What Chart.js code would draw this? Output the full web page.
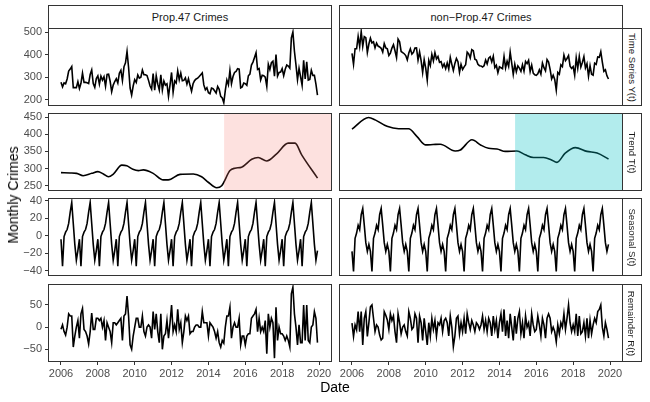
<!DOCTYPE html>
<html>
<head>
<meta charset="utf-8">
<script src="https://cdn.jsdelivr.net/npm/chart.js@4.4.1/dist/chart.umd.min.js"></script>
<style>
  body { margin: 0; background: #fff; font-family: "Liberation Sans", Arial, sans-serif; }
  #wrap { position: relative; width: 650px; height: 402px; overflow: hidden; }
  canvas { position: absolute; }
  .strip { position: absolute; box-sizing: border-box; border: 1px solid #333; background: #fff;
           color: #1a1a1a; display: flex; align-items: center; justify-content: center; white-space: nowrap; }
  .strip.top { font-size: 11px; }
  .strip.side { font-size: 9.6px; }
  .strip.side span { transform: rotate(90deg); }
  .title { position: absolute; font-size: 14px; color: #000; white-space: nowrap; }
</style>
</head>
<body>
<div id="wrap"></div>
<script>
// ---- data ----
const years = [2006, 2007, 2008, 2009, 2010, 2011, 2012, 2013, 2014, 2015, 2016, 2017, 2018, 2019];

// Prop.47 crimes, one row of 12 months per year
const prop47Observed = [
  [279, 258, 276, 272, 293, 328, 337, 348, 255, 255, 255, 281],
  [251, 274, 319, 278, 278, 276, 273, 313, 333, 273, 256, 295],
  [307, 270, 306, 288, 303, 261, 313, 314, 283, 237, 266, 282],
  [294, 275, 319, 332, 286, 347, 365, 415, 345, 253, 222, 262],
  [290, 278, 311, 297, 301, 333, 312, 312, 308, 287, 262, 248],
  [317, 243, 308, 270, 244, 312, 244, 284, 266, 272, 216, 267],
  [322, 234, 284, 275, 329, 290, 319, 285, 287, 298, 270, 294],
  [265, 239, 272, 286, 293, 297, 304, 312, 320, 267, 245, 254],
  [232, 228, 253, 250, 241, 231, 260, 247, 216, 209, 188, 243],
  [289, 268, 331, 272, 304, 322, 327, 339, 337, 254, 258, 275],
  [272, 265, 307, 315, 355, 368, 388, 409, 335, 339, 289, 310],
  [308, 301, 260, 358, 335, 365, 372, 306, 401, 306, 322, 324],
  [339, 308, 336, 355, 350, 341, 475, 501, 416, 356, 290, 340],
  [303, 265, 376, 293, 369, 288, 291, 332, 309, 309, 270, 222]
];
const prop47TrendDates = [2006.0, 2006.5, 2006.85, 2007.2, 2007.67, 2008.0, 2008.3, 2008.57, 2008.84,
  2009.3, 2009.57, 2009.9, 2010.2, 2010.47, 2011.0, 2011.55, 2011.82, 2012.46, 2013.18, 2013.63,
  2013.99, 2014.45, 2014.72, 2015.17, 2015.44, 2015.8, 2016.35, 2016.7, 2017.16, 2017.7, 2018.33,
  2018.7, 2019.06, 2019.92];
const prop47TrendValues = [288, 287, 286, 279, 286, 291, 284, 276, 284,
  310, 308, 298, 294, 296, 286, 267, 267, 283, 284, 276,
  260, 244, 250, 294, 301, 304, 327, 332, 322, 343, 374,
  374, 340, 272];
const prop47Seasonal = [
  [-4, -35, -1, 4, 7, 14, 27, 38, 14, -10, -28, -17],
  [-4, -35, -1, 4, 7, 14, 27, 38, 14, -10, -28, -17],
  [-4, -35, -1, 4, 7, 14, 27, 38, 14, -10, -28, -17],
  [-4, -35, -1, 4, 7, 14, 27, 38, 14, -10, -28, -17],
  [-4, -35, -1, 4, 7, 14, 27, 38, 14, -10, -28, -17],
  [-4, -35, -1, 4, 7, 14, 27, 38, 14, -10, -28, -17],
  [-4, -35, -1, 4, 7, 14, 27, 38, 14, -10, -28, -17],
  [-4, -35, -1, 4, 7, 14, 27, 38, 14, -10, -28, -17],
  [-4, -35, -1, 4, 7, 14, 27, 38, 14, -10, -28, -17],
  [-4, -35, -1, 4, 7, 14, 27, 38, 14, -10, -28, -17],
  [-4, -35, -1, 4, 7, 14, 27, 38, 14, -10, -28, -17],
  [-4, -35, -1, 4, 7, 14, 27, 38, 14, -10, -28, -17],
  [-4, -35, -1, 4, 7, 14, 27, 38, 14, -10, -28, -17],
  [-4, -35, -1, 4, 7, 14, 27, 38, 14, -10, -28, -17]
];
const prop47Remainder = [
  [-5, 5, -10, -18, 0, 30, 25, 25, -45, -20, 0, 15],
  [-25, 30, 42, -5, -10, -20, -38, -10, 32, -5, -5, 20],
  [20, 15, 20, 0, 15, -30, 10, 0, -10, -35, 10, 10],
  [5, 10, 15, 20, -30, 25, 30, 70, 25, -40, -50, -20],
  [0, 20, 20, 0, 0, 25, -10, -20, 0, 5, 0, -25],
  [35, -5, 30, -10, -35, 30, -50, -20, -15, 15, -25, 10],
  [50, -10, 5, -10, 40, -5, 10, -35, -10, 25, 15, 25],
  [-15, -10, -10, 0, 5, 5, 0, 0, 35, 10, 10, 10],
  [-20, 10, 5, 0, -10, -25, -10, -35, -45, -30, -36, 0],
  [25, 25, 45, -25, 0, 10, 0, 0, 20, -40, -20, -20],
  [-40, -20, -15, -15, 20, 25, 30, 40, -10, 20, -10, 0],
  [-10, 15, -60, 30, 0, 20, 10, -70, 45, -30, 0, -15],
  [-15, -20, -30, -20, -30, -45, 75, 90, 30, 0, -40, 5],
  [-35, -35, 50, -30, 50, -30, -35, 0, 5, 35, 20, -35]
];

// non-Prop.47 crimes
const otherObserved = [
  [407, 358, 427, 427, 482, 437, 503, 438, 481, 476, 410, 448],
  [474, 453, 458, 431, 452, 439, 435, 429, 412, 450, 431, 427],
  [397, 408, 430, 445, 418, 388, 470, 458, 415, 410, 405, 397],
  [378, 408, 427, 403, 411, 430, 431, 377, 413, 374, 322, 379],
  [341, 288, 376, 353, 402, 373, 410, 382, 393, 367, 370, 346],
  [360, 339, 364, 337, 389, 358, 331, 362, 384, 370, 322, 358],
  [335, 347, 356, 412, 404, 386, 423, 418, 381, 377, 358, 352],
  [351, 346, 352, 377, 360, 385, 392, 369, 394, 344, 354, 321],
  [347, 343, 339, 393, 342, 372, 349, 412, 363, 313, 358, 325],
  [351, 341, 327, 356, 328, 371, 361, 376, 326, 355, 319, 312],
  [309, 316, 334, 315, 364, 343, 329, 379, 368, 336, 294, 310],
  [291, 244, 322, 314, 356, 348, 399, 374, 384, 397, 350, 340],
  [348, 310, 387, 341, 393, 346, 366, 392, 342, 361, 305, 352],
  [314, 310, 363, 358, 391, 389, 414, 368, 327, 334, 307, 293]
];
const otherTrendDates = [2006.0, 2006.9, 2007.26, 2007.9, 2008.53, 2009.07, 2009.53, 2009.98, 2010.4,
  2010.79, 2011.6, 2011.88, 2012.51, 2013.0, 2013.41, 2013.87, 2014.32, 2014.95, 2015.4, 2015.85,
  2016.4, 2016.8, 2017.12, 2017.57, 2018.12, 2018.75, 2019.3, 2019.92];
const otherTrendValues = [415, 449, 442, 423, 416, 416, 393, 369, 370,
  371, 351, 354, 384, 368, 359, 357, 350, 351, 340, 332,
  332, 326, 318, 345, 361, 350, 345, 328];
const otherSeasonal = [
  [-18, -41, -3, 3, 12, 7, 24, 31, 12, -8, -18, -10],
  [-18, -41, -3, 3, 12, 7, 24, 31, 12, -8, -18, -10],
  [-18, -41, -3, 3, 12, 7, 24, 31, 12, -8, -18, -10],
  [-18, -41, -3, 3, 12, 7, 24, 31, 12, -8, -18, -10],
  [-18, -41, -3, 3, 12, 7, 24, 31, 12, -8, -18, -10],
  [-18, -41, -3, 3, 12, 7, 24, 31, 12, -8, -18, -10],
  [-18, -41, -3, 3, 12, 7, 24, 31, 12, -8, -18, -10],
  [-18, -41, -3, 3, 12, 7, 24, 31, 12, -8, -18, -10],
  [-18, -41, -3, 3, 12, 7, 24, 31, 12, -8, -18, -10],
  [-18, -41, -3, 3, 12, 7, 24, 31, 12, -8, -18, -10],
  [-18, -41, -3, 3, 12, 7, 24, 31, 12, -8, -18, -10],
  [-18, -41, -3, 3, 12, 7, 24, 31, 12, -8, -18, -10],
  [-18, -41, -3, 3, 12, 7, 24, 31, 12, -8, -18, -10],
  [-18, -41, -3, 3, 12, 7, 24, 31, 12, -8, -18, -10]
];
const otherRemainder = [
  [9, -21, 5, -6, 35, -10, 35, -40, 20, 35, -21, 10],
  [46, 50, 20, -10, 5, 0, -18, -29, -25, 35, 27, 16],
  [-5, 30, 15, 25, -10, -35, 30, 10, -15, 0, 5, -10],
  [-20, 35, 20, -5, 0, 30, 20, -35, 25, 10, -30, 20],
  [-10, -40, 10, -20, 20, -5, 15, -20, 10, 5, 20, -10],
  [15, 20, 10, -20, 25, 0, -44, -20, 20, 25, -15, 10],
  [-10, 20, -15, 30, 10, -5, 15, 5, -10, 10, 5, -5],
  [5, 25, -5, 15, -10, 20, 10, -20, 25, -5, 15, -25],
  [10, 30, -10, 40, -20, 15, -25, 30, 0, -30, 25, -15],
  [20, 35, -15, 10, -25, 25, 0, 10, -20, 30, 5, -10],
  [-5, 25, 5, -20, 20, 5, -25, 20, 30, 20, -10, 0],
  [-10, -33, 5, -15, 10, 0, 30, -5, 20, 50, 10, -10],
  [5, -10, 30, -20, 25, -15, -10, 10, -20, 20, -25, 15],
  [-15, 5, 20, 10, 35, 40, 50, 0, -20, 10, -5, -25]
];

const prop47Passed = 2014.85;   // shaded from Nov 2014 on
const xTicks = [2006, 2008, 2010, 2012, 2014, 2016, 2018, 2020];
const seriesTicks = [200, 300, 400, 500];
const trendTicks = [250, 300, 350, 400, 450];
const seasonalTicks = [-40, -20, 0, 20, 40];
const remainderTicks = [-50, 0, 50];
const columnTitles = ['Prop.47 Crimes', 'non\u2212Prop.47 Crimes'];
const rowTitles = ['Time Series Y(t)', 'Trend T(t)', 'Seasonal S(t)', 'Remainder R(t)'];

// ---- layout ----
const FONT = '"Liberation Sans", Arial, sans-serif';
const xMin = 2005.295, xMax = 2020.705;
const rowLimits = [[173.4, 519], [234.5, 462], [-46.1, 43.1], [-78.7, 97.4]];
const rowTicks = [seriesTicks, trendTicks, seasonalTicks, remainderTicks];
const panelLeft = [48, 339];
const panelTop = [28, 113, 198, 284];
const panelW = 284, panelH = 78;
const yAxisW = 48, xAxisH = 28, pad = 12;
const shades = ['rgba(248, 118, 109, 0.22)', 'rgba(0, 191, 196, 0.3)'];

const wrap = document.getElementById('wrap');

function monthly(rows) {
    return rows.flatMap((row, i) => row.map((v, m) => ({ x: years[i] + m / 12, y: v })));
}

function knots(dates, values) {
    return dates.map((d, i) => ({ x: d, y: values[i] }));
}

const panelPlugin = {
    id: 'panel',
    afterDatasetsDraw(chart, args, opts) {
        const { ctx, chartArea: a, scales } = chart;
        ctx.save();
        if (opts.shade) {
            const x0 = scales.x.getPixelForValue(prop47Passed);
            ctx.fillStyle = opts.shade;
            ctx.fillRect(x0, a.top, a.right - x0, a.bottom - a.top);
        }
        ctx.strokeStyle = '#333';
        ctx.lineWidth = 1;
        ctx.strokeRect(a.left + 0.5, a.top + 0.5, a.right - a.left - 1, a.bottom - a.top - 1);
        ctx.restore();
    }
};

function makePanel(col, row, points, smooth, shade) {
    const canvas = document.createElement('canvas');
    const showY = col === 0, showX = row === 3;
    const left = panelLeft[col] - (showY ? yAxisW : pad);
    const top = panelTop[row] - pad;
    const width = panelW + (showY ? yAxisW : pad) + pad;
    const height = panelH + pad + (showX ? xAxisH : pad);
    canvas.width = width;
    canvas.height = height;
    canvas.style.left = left + 'px';
    canvas.style.top = top + 'px';
    wrap.appendChild(canvas);

    const tickStyle = { color: '#4d4d4d', font: { family: FONT, size: 11 }, padding: 2, autoSkip: false, maxRotation: 0 };
    const gridStyle = { drawOnChartArea: false, tickLength: 3, tickColor: '#333', lineWidth: 1 };

    new Chart(canvas, {
        type: 'line',
        data: {
            datasets: [{
                data: points,
                borderColor: '#000',
                borderWidth: 1.6,
                pointRadius: 0,
                fill: false,
                tension: smooth ? 0.4 : 0,
                cubicInterpolationMode: smooth ? 'monotone' : 'default'
            }]
        },
        options: {
            responsive: false,
            animation: false,
            events: [],
            layout: { padding: { left: showY ? 0 : pad, right: pad, top: pad, bottom: showX ? 0 : pad } },
            plugins: { legend: { display: false }, tooltip: { enabled: false }, panel: { shade: shade } },
            scales: {
                x: {
                    type: 'linear', min: xMin, max: xMax, display: showX,
                    afterBuildTicks: s => { s.ticks = xTicks.map(v => ({ value: v })); },
                    afterFit: s => { s.height = showX ? xAxisH : 0; },
                    grid: gridStyle, border: { display: false },
                    ticks: Object.assign({}, tickStyle, { callback: v => String(v) })
                },
                y: {
                    type: 'linear', min: rowLimits[row][0], max: rowLimits[row][1], display: showY,
                    afterBuildTicks: s => { s.ticks = rowTicks[row].map(v => ({ value: v })); },
                    afterFit: s => { s.width = showY ? yAxisW : 0; },
                    grid: gridStyle, border: { display: false },
                    ticks: Object.assign({}, tickStyle, { padding: 3, callback: v => String(v).replace('-', '\u2212') })
                }
            }
        },
        plugins: [panelPlugin]
    });
}

function addDiv(cls, text, style) {
    const d = document.createElement('div');
    d.className = cls;
    const span = document.createElement('span');
    span.textContent = text;
    d.appendChild(span);
    Object.assign(d.style, style);
    wrap.appendChild(d);
    return d;
}

// panels: rows = Y, T, S, R ; columns = Prop.47, non-Prop.47
const columns = [
    { observed: prop47Observed, trend: knots(prop47TrendDates, prop47TrendValues), seasonal: prop47Seasonal, remainder: prop47Remainder },
    { observed: otherObserved, trend: knots(otherTrendDates, otherTrendValues), seasonal: otherSeasonal, remainder: otherRemainder }
];

columns.forEach((c, col) => {
    makePanel(col, 0, monthly(c.observed), false, null);
    makePanel(col, 1, c.trend, true, shades[col]);
    makePanel(col, 2, monthly(c.seasonal), false, null);
    makePanel(col, 3, monthly(c.remainder), false, null);

    addDiv('strip top', columnTitles[col], {
        left: panelLeft[col] + 'px', top: '5px', width: panelW + 'px', height: '24px'
    });
});

rowTitles.forEach((t, row) => {
    addDiv('strip side', t, {
        left: (panelLeft[1] + panelW - 1) + 'px', top: panelTop[row] + 'px', width: '20px', height: panelH + 'px'
    });
});

// axis titles
addDiv('title', 'Monthly Crimes', { left: '13px', top: '195px', transform: 'translate(-50%, -50%) rotate(-90deg)' });
addDiv('title', 'Date', { left: '335px', top: '387px', transform: 'translate(-50%, -50%)' });
</script>
</body>
</html>
